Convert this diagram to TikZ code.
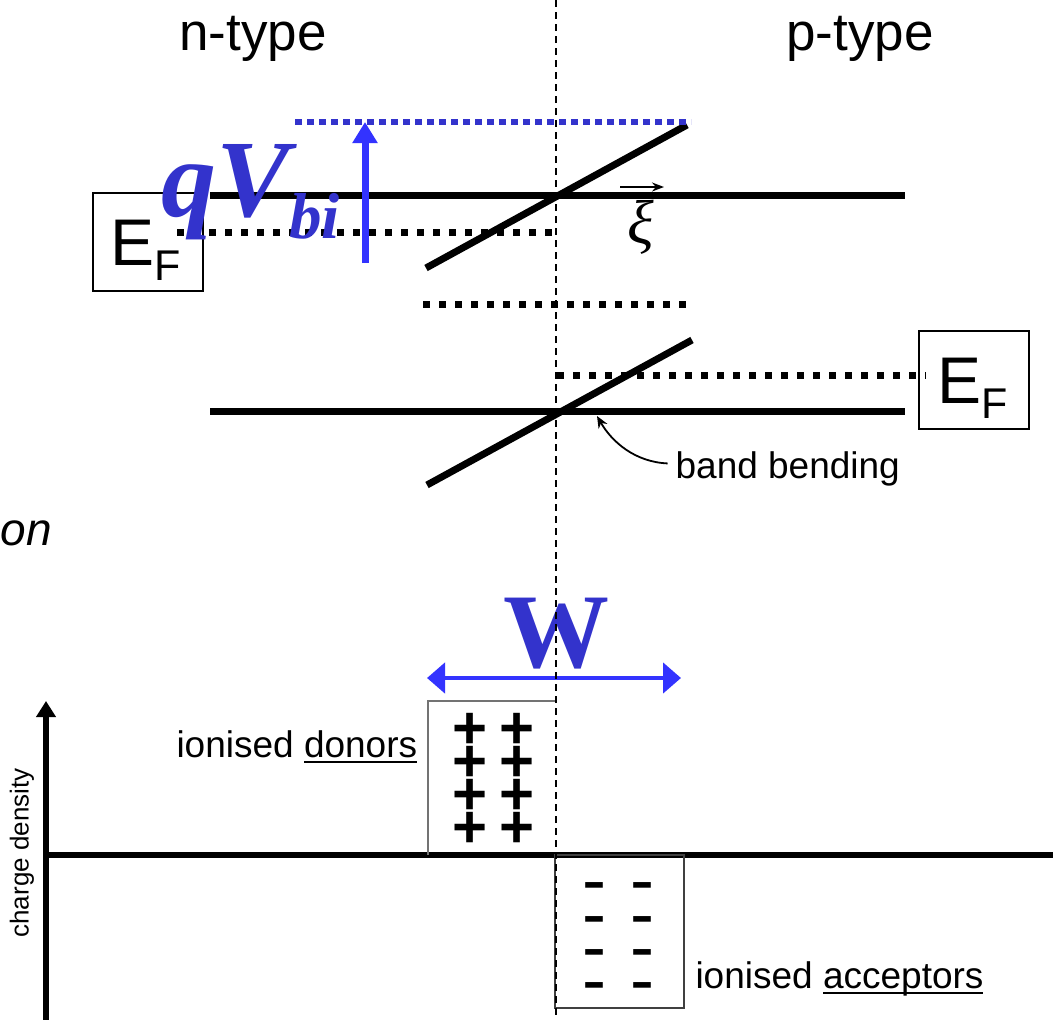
\documentclass[tikz,border=0pt]{standalone}
\usepackage{fontspec}
\setmainfont{Liberation Sans}
\newfontfamily\serifbi{Liberation Serif}
\usetikzlibrary{arrows.meta}
\definecolor{tblue}{RGB}{51,51,204}
\definecolor{ablue}{RGB}{51,51,255}
\newcommand\fs[1]{\fontsize{#1}{#1}\selectfont}
\newcommand\myul[1]{\setbox0\hbox{#1}\rlap{\rule[-6pt]{\wd0}{2pt}}\box0}
\newcommand\stackrows[1]{\vtop{\baselineskip=33.3pt\lineskiplimit=-200pt\lineskip=0pt
  \hbox{#1}\hbox{#1}\hbox{#1}\hbox{#1}}}
\begin{document}
\begin{tikzpicture}[x=1pt,y=-1pt,
  every node/.style={inner sep=0pt,outer sep=0pt},
  band/.style={line width=7pt},
  dotk/.style={line width=7pt,dash pattern=on 7pt off 9pt},
  dotb/.style={tblue,line width=6pt,dash pattern=on 6.5pt off 5.5pt},
  efbox/.style={draw,line width=2pt,minimum width=110pt,minimum height=98pt},
  eftext/.style={anchor=base west},
  lbl/.style={anchor=base west,font=\fs{37}},
  big/.style={anchor=base west,font=\fs{53}},
  pl/.style={anchor=base,font=\bfseries\fs{60}},
  mi/.style={anchor=base,font=\fs{72}},
  thin arrow/.style={line width=1.8pt,-{Stealth[length=12pt,width=10pt]}},
]
\useasboundingbox (0,0) rectangle (1053,1020);

% titles
\node[big] (nt) at (179.5,50) {n-type};
\node[big] (pt) at (786.5,50) {p-type};
\node[anchor=base east,font=\itshape\fs{46}] (on) at (52,545) {on};

% E_F box left
\node[efbox] (ef1) at (148,242) {};
\node[eftext] (ef1t) at (110,265) {\fs{66}E\raisebox{-15pt}{\fs{43}F}};

% bands
\draw[band] (210,195) -- (905,195);
\draw[band] (426,268) -- (687,125);
\draw[dotk] (177,232) -- (553,232);
\draw[dotk] (423,304) -- (688,304);
\draw[band] (210,411) -- (905,411);
\draw[band] (427,485) -- (692,340);
\draw[dotk] (557,375) -- (926,375);
\draw[dotb] (295,122) -- (691,122);

% qVbi arrow
\coordinate (qa) at (365,263);
\coordinate (qb) at (365,122);
\draw[ablue,line width=7pt,-{Triangle[length=21pt,width=24pt]}] (qa) -- (qb);
\node[anchor=base west,text=tblue,font=\serifbi\bfseries\itshape\fs{110}] (qv) at (161,216) {qV\raisebox{-22pt}{\fs{65}bi}};

% field xi
\node[font=\serifbi\itshape\fs{62}] (xi) at (641,227) {ξ};
\coordinate (xa) at (620,187);
\coordinate (xb) at (664,187);
\draw[line width=1.8pt,-{Stealth[length=12pt,width=9pt]}] (xa) -- (xb);

% E_F box right
\node[efbox] (ef2) at (974,380) {};
\node[eftext] (ef2t) at (937,403) {\fs{66}E\raisebox{-15pt}{\fs{43}F}};

% band bending
\node[lbl] (bb) at (675.6,478) {band bending};
\coordinate (bbtip) at (597,416);
\draw[thin arrow] ([shift={(-8,-5)}]bb.west) .. controls (635,462) and (612,442) .. (bbtip);

% W
\node[anchor=base,text=tblue,font=\serifbi\bfseries\fs{106}] (w) at (556.5,667) {W};
\coordinate (wl) at (427,678);
\coordinate (wr) at (681,678);
\draw[ablue,line width=4.5pt,{Triangle[length=18pt,width=30pt]}-{Triangle[length=18pt,width=30pt]}] (wl) -- (wr);

% axes
\coordinate (ab) at (46,1022);
\coordinate (at) at (46,701);
\draw[line width=6pt,-{Triangle[length=16pt,width=19pt]}] (ab) -- (at);
\coordinate (hl) at (43,855);
\coordinate (hr) at (1053,855);
\draw[line width=6pt] (hl) -- (hr);
\node[rotate=90,font=\fs{26}] (cd) at (22,853) {charge density};

% charge boxes
\draw[black!55,line width=1.5pt] (428,855) -- (428,701) -- (556,701);
\draw[black!75,line width=2pt] (555,855) rectangle (684,1008);
\node[pl] (plus) at (493.5,748) {\stackrows{+\hspace{12pt}+}};
\node[mi] (minus) at (618.5,904.8) {\stackrows{-\hspace{25pt}-}};
\node[lbl] (don) at (176.5,757) {ionised \myul{donors}};
\node[lbl] (acc) at (695.5,988) {ionised \myul{acceptors}};

% junction line
\draw[line width=1.5pt,dash pattern=on 7pt off 5pt] (556,0) -- (556,1020);
\end{tikzpicture}
\end{document}
